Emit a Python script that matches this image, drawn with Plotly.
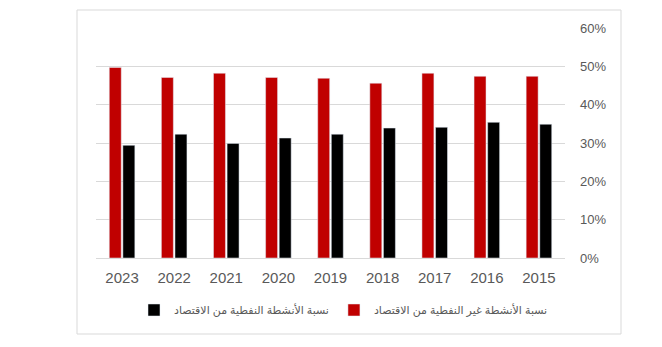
import plotly.graph_objects as go

years = ["2023", "2022", "2021", "2020", "2019", "2018", "2017", "2016", "2015"]
non_oil = [0.497, 0.471, 0.482, 0.471, 0.469, 0.456, 0.482, 0.474, 0.474]
oil = [0.294, 0.323, 0.299, 0.313, 0.323, 0.339, 0.341, 0.354, 0.349]
name_non_oil = "نسبة الأنشطة غير النفطية من الاقتصاد"
name_oil = "نسبة الأنشطة النفطية من الاقتصاد"
y_ticks = [0, 0.1, 0.2, 0.3, 0.4, 0.5, 0.6]

font_family = "Arial, Liberation Sans, DejaVu Sans, sans-serif"

fig = go.Figure()
fig.add_trace(go.Bar(x=years, y=non_oil, name=name_non_oil, marker_color="#c00000"))
fig.add_trace(go.Bar(x=years, y=oil, name=name_oil, marker_color="#000000"))

W, H = 662, 347
L, R, T, B = 96, 97, 28, 89
pw, ph = W - L - R, H - T - B

def px_x(p):
    return (p - L) / pw

def px_y(p):
    return (H - B - p) / ph

fig.update_layout(
    width=W, height=H,
    margin=dict(l=L, r=R, t=T, b=B, pad=0),
    paper_bgcolor="white", plot_bgcolor="white",
    barmode="group", bargap=0.478, bargroupgap=0.12,
    font=dict(family=font_family, color="#595959"),
    showlegend=True,
    legend=dict(orientation="h", traceorder="reversed",
                x=px_x(134), y=px_y(310), xanchor="left", yanchor="middle",
                font=dict(size=11, color="#595959"), itemwidth=30,
                bgcolor="rgba(0,0,0,0)"),
    xaxis=dict(type="category", showgrid=False, showline=True, linecolor="#d9d9d9",
               linewidth=1, ticks="", tickfont=dict(size=15, color="#595959"),
               ticklabelstandoff=6),
    yaxis=dict(side="right", range=[0, 0.6], tickvals=y_ticks, tickformat=".0%",
               showgrid=True, gridcolor="#d9d9d9", gridwidth=1, zeroline=False,
               ticks="", tickfont=dict(size=13, color="#595959"),
               ticklabelstandoff=14),
    shapes=[dict(type="rect", xref="paper", yref="paper",
                 x0=px_x(77), x1=px_x(621), y0=px_y(334), y1=px_y(10),
                 line=dict(color="#d9d9d9", width=1), fillcolor="rgba(0,0,0,0)",
                 layer="below")],
)

fig.write_html("out.html")
